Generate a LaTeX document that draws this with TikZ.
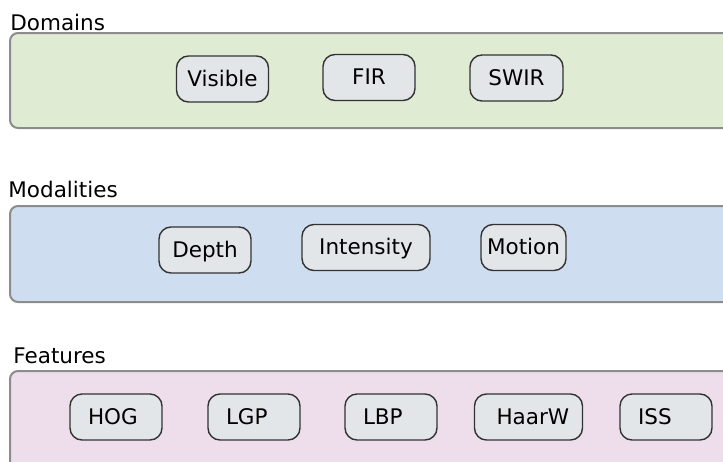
\documentclass[tikz,border=0pt]{standalone}
\usepackage{fontspec}
\setmainfont{DejaVu Sans}
\usetikzlibrary{positioning}
\definecolor{domaingreen}{HTML}{DFEBD3}
\definecolor{modalblue}{HTML}{CEDEF0}
\definecolor{featpink}{HTML}{EEDEEC}
\definecolor{itemgray}{HTML}{E3E6E8}
\definecolor{itemedge}{HTML}{333333}
\definecolor{panelgray}{HTML}{8C8C8C}

\begin{document}
\begin{tikzpicture}[x=0.5pt, y=-0.5pt, font=\fontsize{10.75}{13}\selectfont,
  item/.style={draw=itemedge, fill=itemgray, rounded corners=6pt, line width=0.7pt, minimum height=23pt, text height=0.73em, text depth=0pt, inner sep=0pt},
  feat/.style={item, text width=28pt, inner xsep=9pt, align=left},
  panel/.style={draw=panelgray, line width=1pt, rounded corners=4pt},
  title/.style={anchor=base west, inner sep=0pt}]
\useasboundingbox (0,0) rectangle (723,461);
\clip (0,0) rectangle (723,461);
% the three bands
\draw[panel, fill=domaingreen] (10,33) rectangle (760,128);
\draw[panel, fill=modalblue] (10,206) rectangle (760,302);
\draw[panel, fill=featpink] (10,371) rectangle (760,500);
\node[title] (domains) at (10,30) {Domains};
\node[title] (modalities) at (8,197) {Modalities};
\node[title] (features) at (13,363) {Features};
% domains
\node[item, minimum width=46pt] (visible) at (222.5,79) {Visible};
\node[item, minimum width=46pt] (fir) at (369,77.5) {FIR};
\node[item, minimum width=46.5pt] (swir) at (516.5,78) {SWIR};
% modalities
\node[item, minimum width=46pt] (depth) at (205,250) {Depth};
\node[item, minimum width=64pt] (intensity) at (366,247.5) {Intensity};
\node[item, minimum width=42.5pt] (motion) at (523.5,247.5) {Motion};
% features
\node[feat] (hog) at (116,417) {HOG};
\node[feat] (lgp) at (254,417) {LGP};
\node[feat] (lbp) at (391,417) {LBP};
\node[feat, text width=32pt, inner xsep=11pt] (haarw) at (528.5,417) {HaarW};
\node[feat] (iss) at (666,417) {ISS};
\end{tikzpicture}
\end{document}
